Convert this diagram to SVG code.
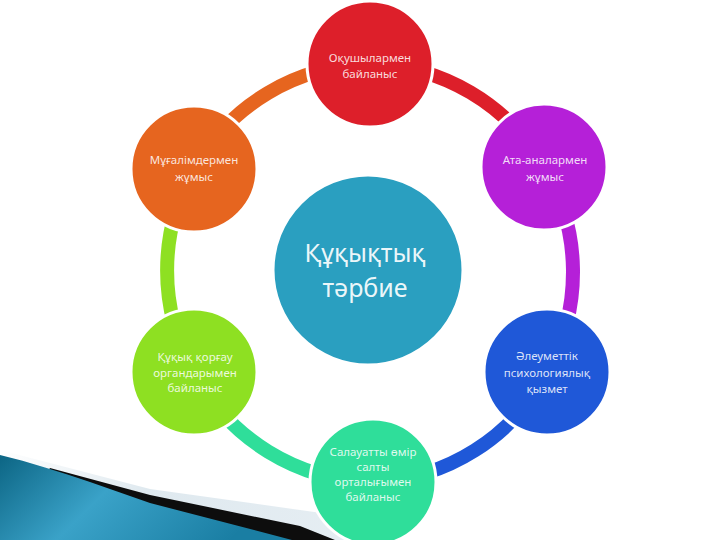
<svg xmlns="http://www.w3.org/2000/svg" width="720" height="540" viewBox="0 0 720 540">
  <defs>
    <linearGradient id="bandBlue" x1="0" y1="0" x2="1" y2="0.3">
      <stop offset="0" stop-color="#0c6584"/>
      <stop offset="0.45" stop-color="#3aa2c8"/>
      <stop offset="1" stop-color="#1a7ea3"/>
    </linearGradient>
    <linearGradient id="bandLight" x1="0" y1="0" x2="1" y2="0">
      <stop offset="0" stop-color="#ffffff"/>
      <stop offset="0.4" stop-color="#dfe9ef"/>
      <stop offset="1" stop-color="#e6eef3"/>
    </linearGradient>
  </defs>
  <style>
    .node circle { stroke: #ffffff; stroke-width: 3; }
    .lbl { font-family: "Noto Sans", "Open Sans", sans-serif; font-size: 11.5px; fill: #ffffff; fill-opacity: 0.85; text-anchor: middle; }
    .big { font-family: "Noto Sans", "Open Sans", sans-serif; font-size: 25px; fill: #ffffff; fill-opacity: 0.92; text-anchor: middle; }
    .seg { fill: none; stroke-width: 14; stroke-linecap: butt; }
  </style>
  <rect width="720" height="540" fill="#ffffff"/>

  <g id="decoration">
    <polygon points="0,450 150,489 350,517 368,540 0,540" fill="url(#bandLight)"/>
    <polygon points="50,468 150,495 300,526 335,540 0,540" fill="#0d0d0d"/>
    <path d="M0,455 C30,462 60,472 90,482 L150,503 L292,540 L0,540 Z" fill="url(#bandBlue)"/>
  </g>

  <g id="connectors">
    <path class="seg" stroke="#dd1f2a" d="M370,64 A205,205 0 0 1 544,167"/>
    <path class="seg" stroke="#b520d8" d="M544,167 A205,205 0 0 1 547,372"/>
    <path class="seg" stroke="#1f58d8" d="M547,372 A205,205 0 0 1 373,482"/>
    <path class="seg" stroke="#2fde9a" d="M373,482 A205,205 0 0 1 194,372"/>
    <path class="seg" stroke="#8ee022" d="M194,372 A205,205 0 0 1 194,169"/>
    <path class="seg" stroke="#e6651f" d="M194,169 A205,205 0 0 1 370,64"/>
  </g>

  <g id="center" class="node">
    <circle cx="368" cy="270" r="95" fill="#2a9fc0" stroke-width="2"/>
    <text class="big" x="365" y="262">Құқықтық</text>
    <text class="big" x="365" y="297">тәрбие</text>
  </g>

  <g id="n1" class="node">
    <circle cx="370" cy="64" r="63" fill="#dd1f2a"/>
    <text class="lbl" x="370" y="62">Оқушылармен</text>
    <text class="lbl" x="370" y="78">байланыс</text>
  </g>

  <g id="n2" class="node">
    <circle cx="544" cy="167" r="63" fill="#b520d8"/>
    <text class="lbl" x="545" y="164">Ата-аналармен</text>
    <text class="lbl" x="545" y="181">жұмыс</text>
  </g>

  <g id="n3" class="node">
    <circle cx="547" cy="372" r="63" fill="#1f58d8"/>
    <text class="lbl" x="547" y="360">Әлеуметтік</text>
    <text class="lbl" x="547" y="377">психологиялық</text>
    <text class="lbl" x="547" y="393">қызмет</text>
  </g>

  <g id="n4" class="node">
    <circle cx="373" cy="482" r="63" fill="#2fde9a"/>
    <text class="lbl" x="373" y="456">Салауатты өмір</text>
    <text class="lbl" x="373" y="471">салты</text>
    <text class="lbl" x="373" y="486">орталығымен</text>
    <text class="lbl" x="373" y="501">байланыс</text>
  </g>

  <g id="n5" class="node">
    <circle cx="194" cy="372" r="63" fill="#8ee022"/>
    <text class="lbl" x="195" y="361">Құқық қорғау</text>
    <text class="lbl" x="195" y="377">органдарымен</text>
    <text class="lbl" x="195" y="392">байланыс</text>
  </g>

  <g id="n6" class="node">
    <circle cx="194" cy="169" r="63" fill="#e6651f"/>
    <text class="lbl" x="194" y="164">Мұғалімдермен</text>
    <text class="lbl" x="194" y="181">жұмыс</text>
  </g>
</svg>
